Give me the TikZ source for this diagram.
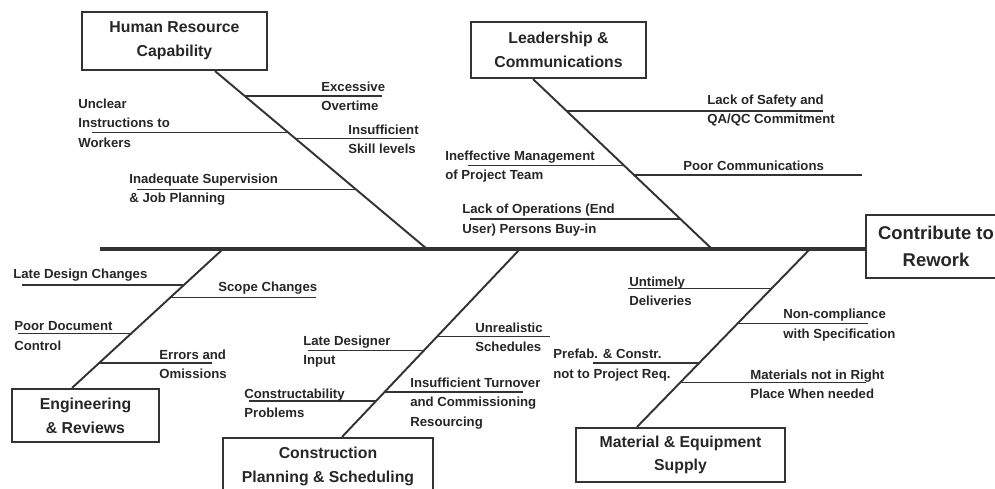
\documentclass[tikz,border=0pt]{standalone}
\usepackage{fontspec}
\setmainfont{Liberation Sans}

\begin{document}
\begin{tikzpicture}[x=0.02cm,y=-0.02cm,
    cause/.style={rectangle,draw=black!80,line width=1.2pt,align=center,inner sep=0pt,text=black!85,font=\fontsize{9}{13.5}\selectfont\bfseries},
    bone/.style={draw=black!80,line width=1.1pt},
    twig/.style={draw=black!80,line width=0.9pt},
    lbl/.style={anchor=west,align=left,inner sep=0pt,text=black!85,font=\fontsize{7.5}{11}\selectfont\bfseries}]
    \useasboundingbox (0,0) rectangle (995,488);
    \clip (0,0) rectangle (995,488);
    % effect and spine
    \node[cause,minimum width=2.8cm,minimum height=1.26cm,font=\fontsize{10.5}{15}\selectfont\bfseries] (head) at (936,246.5) {Contribute to\\Rework};
    \coordinate (tail) at (100,249);
    \draw[black!80,line width=2.3pt] (tail) -- (tail -| head.west);
    % causes
    \node[cause,minimum width=3.7cm,minimum height=1.16cm] (hr) at (174.5,41) {Human Resource\\Capability};
    \node[cause,minimum width=3.5cm,minimum height=1.12cm] (lead) at (558.5,50) {Leadership \&\\Communications};
    \node[cause,minimum width=2.94cm,minimum height=1.06cm] (eng) at (85.5,415.5) {Engineering\\\& Reviews};
    \node[cause,minimum width=4.2cm,minimum height=1.14cm] (cons) at (328,466.5) {Construction\\Planning \& Scheduling};
    \node[cause,minimum width=4.18cm,minimum height=1.08cm] (mat) at (680.5,455) {Material \& Equipment\\Supply};
    % bones
    \draw[bone] (hr.south -| 215,0) -- (tail -| 427,0)
        coordinate[pos=0.14] (hr1) coordinate[pos=0.346] (hr2) coordinate[pos=0.38] (hr3) coordinate[pos=0.665] (hr4);
    \draw[bone] (lead.south -| 533,0) -- (tail -| 712,0)
        coordinate[pos=0.187] (ld1) coordinate[pos=0.509] (ld2) coordinate[pos=0.564] (ld3) coordinate[pos=0.825] (ld4);
    \draw[bone] (eng.north -| 72,0) -- (tail -| 223,0)
        coordinate[pos=0.179] (en1) coordinate[pos=0.393] (en2) coordinate[pos=0.65] (en3) coordinate[pos=0.743] (en4);
    \draw[bone] (cons.north -| 342,0) -- (tail -| 520,0)
        coordinate[pos=0.19] (cn1) coordinate[pos=0.238] (cn2) coordinate[pos=0.46] (cn3) coordinate[pos=0.534] (cn4);
    \draw[bone] (mat.north -| 637,0) -- (tail -| 810,0)
        coordinate[pos=0.251] (mt1) coordinate[pos=0.358] (mt2) coordinate[pos=0.581] (mt3) coordinate[pos=0.777] (mt4);
    % human resource
    \draw[twig] (hr1) -- +(137,0);
    \draw[twig] (hr2) -- +(-196,0);
    \draw[twig] (hr3) -- +(115,0);
    \draw[twig] (hr4) -- +(-219,0);
    \node[lbl] (overtime) at (321,96) {Excessive\\Overtime};
    \node[lbl] (unclear) at (78,123) {Unclear\\Instructions to\\Workers};
    \node[lbl] (skill) at (348,139.5) {Insufficient\\Skill levels};
    \node[lbl] (superv) at (129,189.5) {Inadequate Supervision\\\& Job Planning};
    % leadership
    \draw[twig] (ld1) -- +(257,0);
    \draw[twig] (ld2) -- +(-156,0);
    \draw[twig] (ld3) -- +(228,0);
    \draw[twig] (ld4) -- +(-211,0);
    \node[lbl] (safety) at (707,110.5) {Lack of Safety and\\QA/QC Commitment};
    \node[lbl] (mgmt) at (445,166.5) {Ineffective Management\\of Project Team};
    \node[lbl] (comms) at (683,166) {Poor Communications};
    \node[lbl] (buyin) at (462,220) {Lack of Operations (End\\User) Persons Buy-in};
    % engineering
    \draw[twig] (en1) -- +(113,0);
    \draw[twig] (en2) -- +(-113,0);
    \draw[twig] (en3) -- +(146,0);
    \draw[twig] (en4) -- +(-162,0);
    \node[lbl] (errors) at (159,364.5) {Errors and\\Omissions};
    \node[lbl] (docctrl) at (14,336) {Poor Document\\Control};
    \node[lbl] (scope) at (218,288) {Scope Changes};
    \node[lbl] (latedes) at (13,275) {Late Design Changes};
    % construction
    \draw[twig] (cn1) -- +(-127,0);
    \draw[twig] (cn2) -- +(139,0);
    \draw[twig] (cn3) -- +(-116,0);
    \draw[twig] (cn4) -- +(113,0);
    \node[lbl] (constr) at (244,403.5) {Constructability\\Problems};
    \node[lbl] (turnover) at (410,403.5) {Insufficient Turnover\\and Commissioning\\Resourcing};
    \node[lbl] (designer) at (303,351.5) {Late Designer\\Input};
    \node[lbl] (sched) at (475,337) {Unrealistic\\Schedules};
    % material
    \draw[twig] (mt1) -- +(186,0);
    \draw[twig] (mt2) -- +(-106,0);
    \draw[twig] (mt3) -- +(130,0);
    \draw[twig] (mt4) -- +(-143,0);
    \node[lbl] (place) at (750,384) {Materials not in Right\\Place When needed};
    \node[lbl] (prefab) at (553,365) {Prefab. \& Constr.\\not to Project Req.};
    \node[lbl] (spec) at (783,325) {Non-compliance\\with Specification};
    \node[lbl] (deliv) at (629,291) {Untimely\\Deliveries};
\end{tikzpicture}
\end{document}
